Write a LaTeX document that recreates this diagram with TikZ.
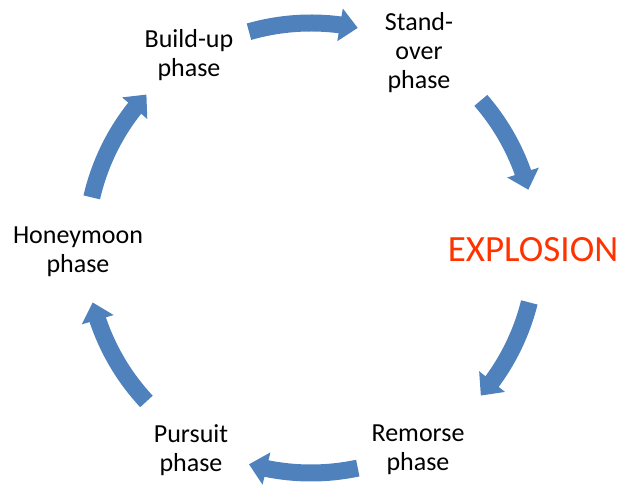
\documentclass[tikz,border=0pt]{standalone}
\usepackage{fontspec}
\setmainfont{Carlito}
\usetikzlibrary{arrows.meta,bending,calc}
\definecolor{cycleblue}{RGB}{79,129,189}
\definecolor{blastred}{RGB}{255,51,0}

\begin{document}
\begin{tikzpicture}[x=1pt, y=1pt,
  phase/.style={align=center, font=\fontsize{26}{29}\selectfont, inner sep=0pt},
  cyclearrow/.style={draw=cycleblue, line width=17pt, -{Triangle[width=32pt,length=18pt]}}]

  \useasboundingbox (0,0) rectangle (623,486);
  \coordinate (c) at (311,238);

  % Phases around the cycle
  \node[phase] (buildup) at (189,431) {Build-up\\phase};
  \node[phase] (standover) at (419,433) {Stand-\\over\\phase};
  \node[phase, font=\fontsize{37}{40}\selectfont, text=blastred] (explosion) at (533,236) {EXPLOSION};
  \node[phase] (remorse) at (418,36) {Remorse\\phase};
  \node[phase] (pursuit) at (191,36) {Pursuit\\phase};
  \node[phase] (honeymoon) at (78,234) {Honeymoon\\phase};

  % Arrows between the phases
  \draw[cyclearrow] ($(c)+(106:225pt)$) arc[start angle=106, end angle=78, radius=225pt];
  \draw[cyclearrow] ($(c)+(41:225pt)$) arc[start angle=41, end angle=15, radius=225pt];
  \draw[cyclearrow] ($(c)+(-14:225pt)$) arc[start angle=-14, end angle=-41, radius=225pt];
  \draw[cyclearrow] ($(c)+(-78:225pt)$) arc[start angle=-78, end angle=-106, radius=225pt];
  \draw[cyclearrow] ($(c)+(-137:225pt)$) arc[start angle=-137, end angle=-166, radius=225pt];
  \draw[cyclearrow] ($(c)+(167:225pt)$) arc[start angle=167, end angle=137, radius=225pt];

\end{tikzpicture}
\end{document}
